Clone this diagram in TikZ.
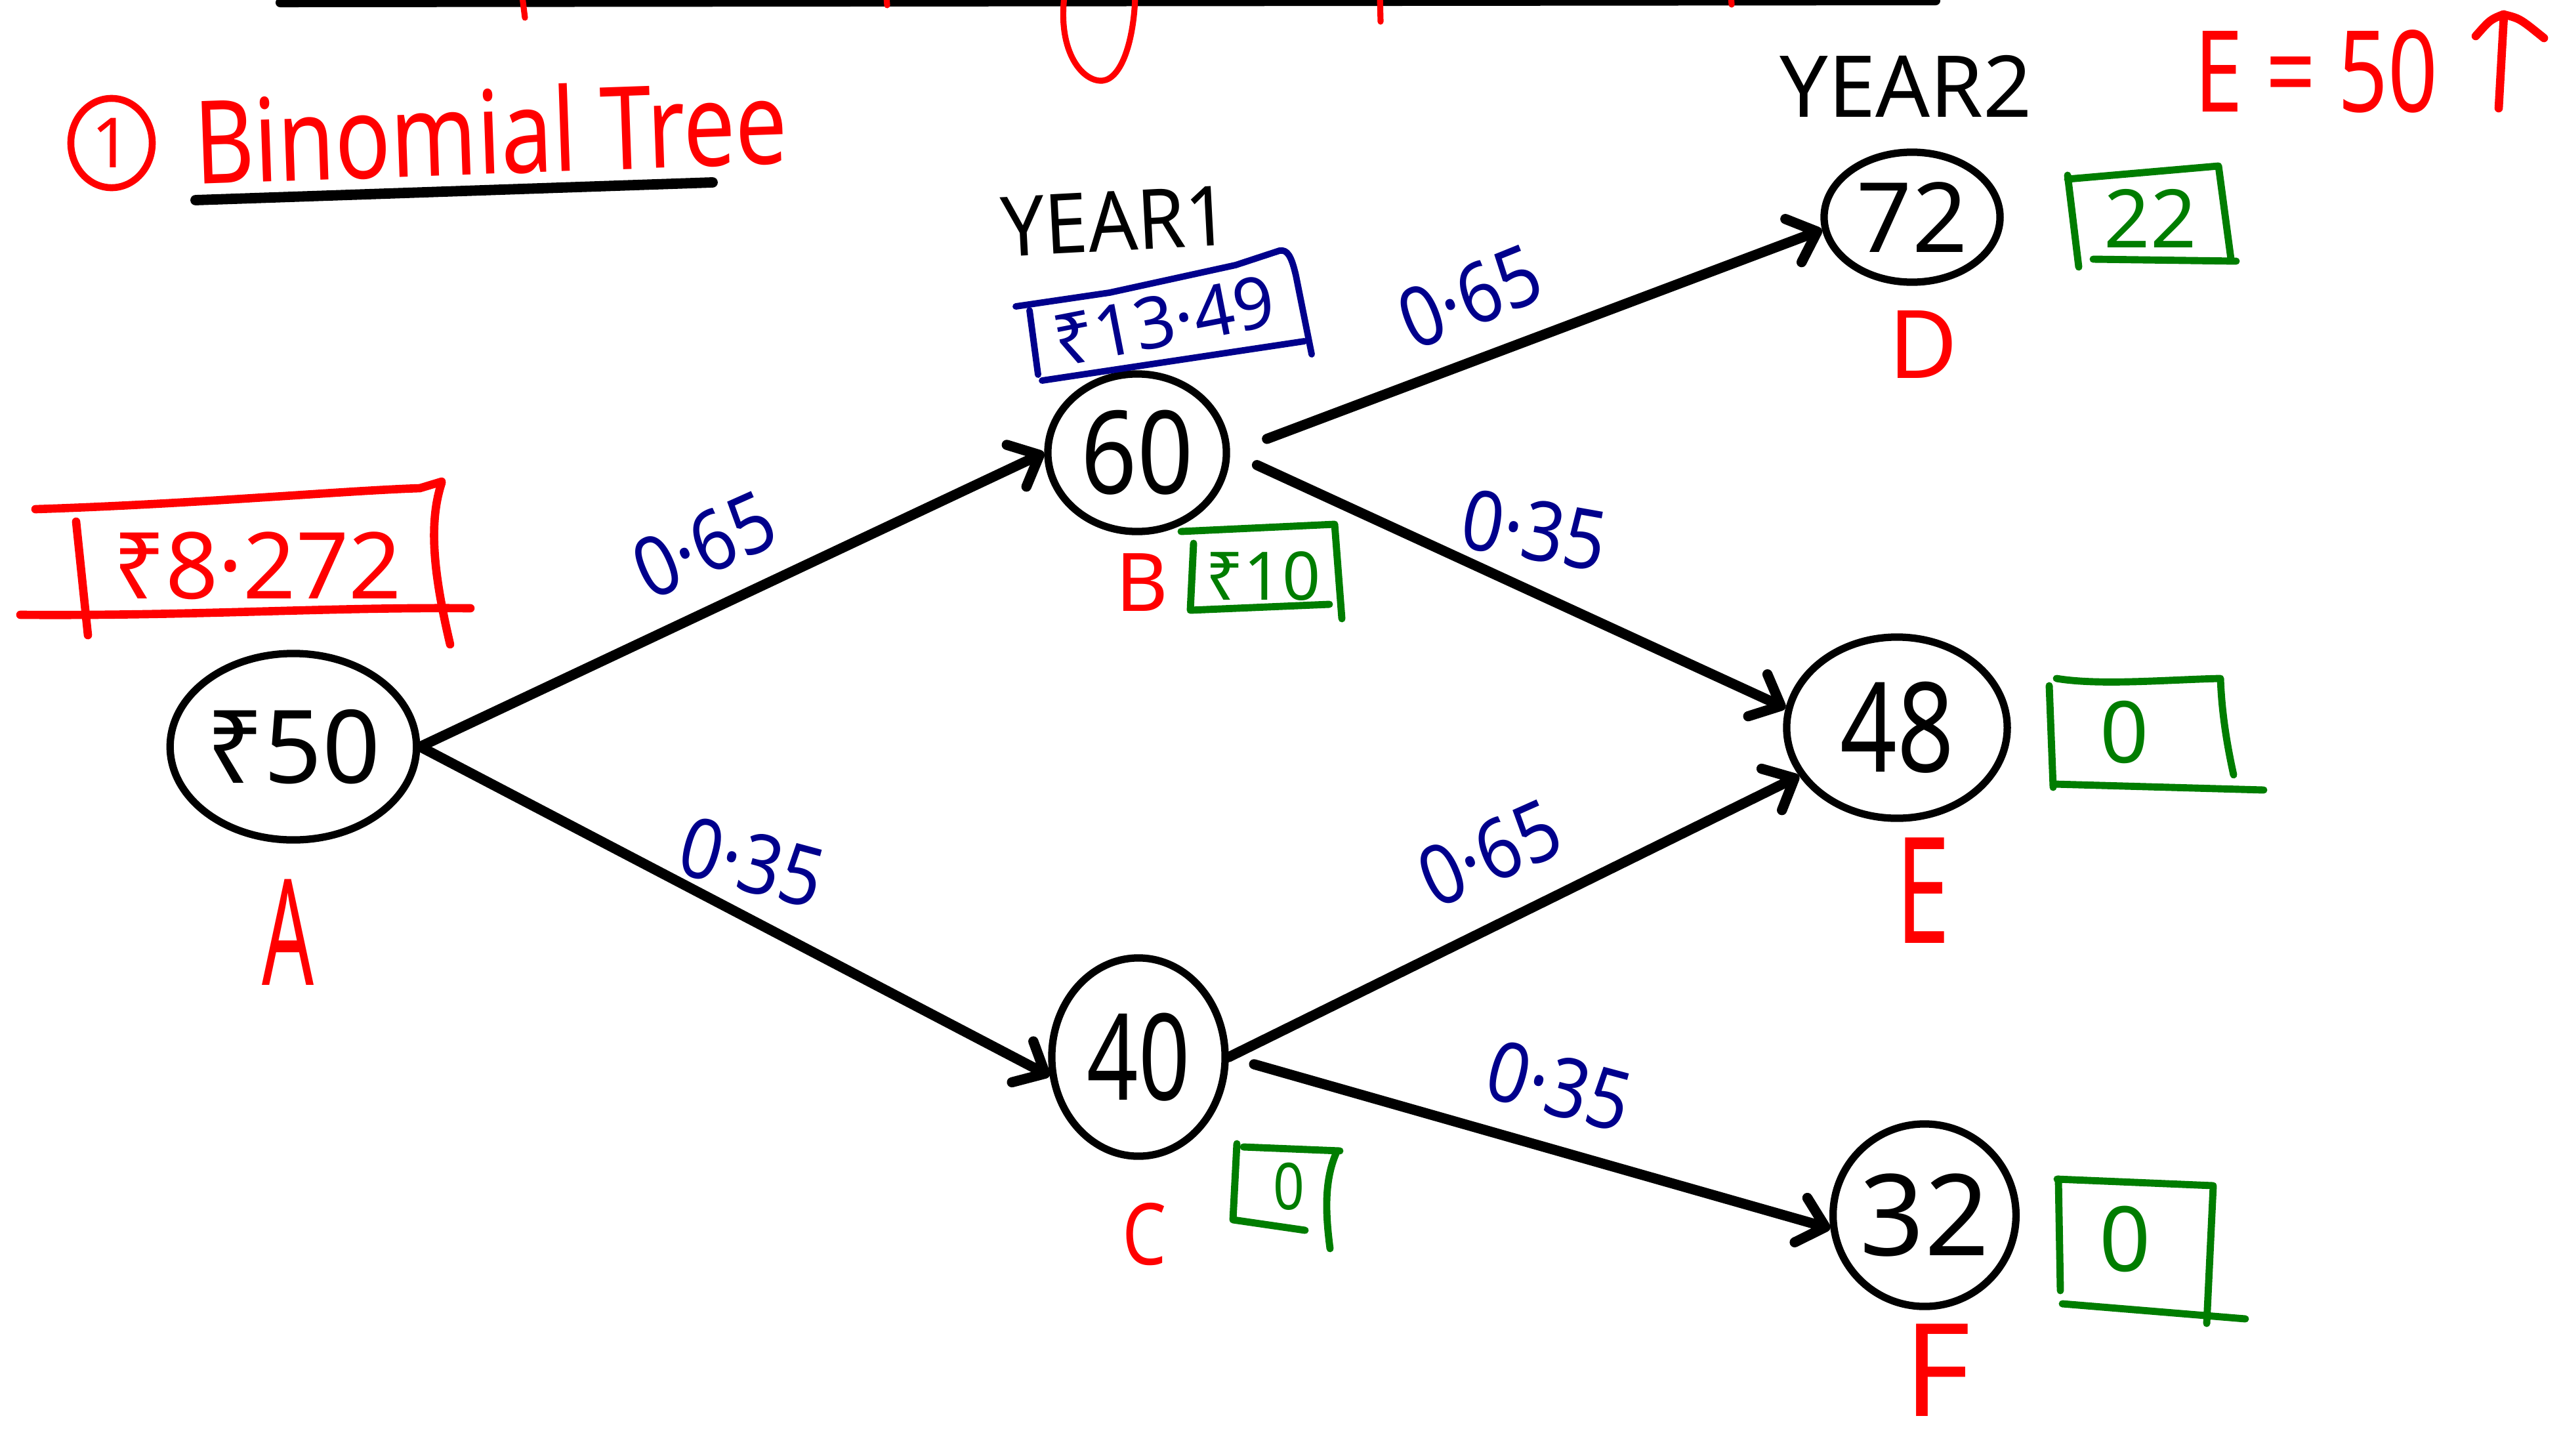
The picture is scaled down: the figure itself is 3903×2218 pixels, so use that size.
\documentclass[tikz,border=0pt]{standalone}
\usepackage{fontspec}
\usepackage{graphicx}
\setmainfont{Noto Sans}
\usetikzlibrary{arrows.meta,shapes.geometric}

\definecolor{penred}{RGB}{255,0,0}
\definecolor{penblue}{RGB}{0,0,140}
\definecolor{pengreen}{RGB}{0,125,0}

% font size in pt, and horizontal squeeze of a piece of text
\newcommand\penfs[1]{\fontsize{#1pt}{#1pt}\selectfont}
\newcommand\hsq[2]{\scalebox{#1}[1]{#2}}

\tikzset{
  bubble/.style={ellipse, draw=black, line width=3.2pt, inner sep=0pt, text=black},
  edge/.style={draw=black, line width=4.4pt, line cap=round,
               -{Straight Barb[length=11pt, width=20pt, round]}},
  prob/.style={text=penblue, font=\penfs{36}, inner sep=0pt},
  tag/.style={text=penred, inner sep=0pt},
  redpen/.style={draw=penred, line width=3.6pt, line cap=round, line join=round},
  greenpen/.style={draw=pengreen, line width=3.1pt, line cap=round, line join=round},
  bluepen/.style={draw=penblue, line width=2.8pt, line cap=round, line join=round},
}

\begin{document}
\begin{tikzpicture}[x=0.01cm, y=-0.01cm]
\useasboundingbox (0,0) rectangle (3903,2218);
\fill[white] (0,0) rectangle (3903,2218);

% heading cut off at the top edge
\draw[line width=4pt, line cap=round] (427,4) -- (2950,1);
\draw[redpen, line width=2.6pt] (796,-5) -- (800,27);
\draw[redpen, line width=2.6pt] (1351,-5) -- (1352,8);
\draw[redpen, line width=2.6pt] (1622,-5) .. controls (1612,80) and (1650,125) .. (1680,123)
      .. controls (1710,120) and (1728,60) .. (1730,-5);
\draw[redpen, line width=2.6pt] (2103,-5) -- (2104,33);
\draw[redpen, line width=2.6pt] (2638,-5) -- (2639,7);

% title
\node[ellipse, draw=penred, line width=3pt, minimum width=1.24cm, minimum height=1.36cm,
      text=penred, font=\penfs{30}, inner sep=0pt] (num) at (170,218) {1};
\node[tag, font=\penfs{50}, anchor=base, rotate=2] (title) at (750,265) {\hsq{0.8}{Binomial Tree}};
\draw[line width=4.5pt, line cap=round] (298,305) -- (1086,278);

% exercise price
\node[tag, font=\penfs{49}, anchor=base] (strike) at (3530,170) {\hsq{0.77}{E = 50}};
\draw[redpen, line width=3.6pt] (3808,165) -- (3816,22);
\draw[redpen, line width=3.6pt] (3773,55) .. controls (3795,30) .. (3815,22)
      .. controls (3840,28) .. (3877,58);

% period headings
\node[font=\penfs{36}, anchor=base, rotate=3] (y1) at (1702,382) {\hsq{0.93}{YEAR1}};
\node[font=\penfs{37}, anchor=base] (y2) at (2905,178) {YEAR2};

% share price tree
\node[bubble, minimum width=3.74cm, minimum height=2.84cm, font=\penfs{44}] (A) at (447,1138) {₹50};
\node[bubble, minimum width=2.72cm, minimum height=2.40cm, font=\penfs{50}] (B) at (1733,690) {\hsq{0.85}{60}};
\node[bubble, minimum width=2.64cm, minimum height=3.02cm, font=\penfs{52}] (C) at (1735,1611) {\hsq{0.75}{40}};
\node[bubble, minimum width=2.68cm, minimum height=1.98cm, font=\penfs{42}] (D) at (2914,331) {72};
\node[bubble, minimum width=3.36cm, minimum height=2.76cm, font=\penfs{54}] (E) at (2891,1109) {\hsq{0.8}{48}};
\node[bubble, minimum width=2.66cm, minimum height=2.78cm, font=\penfs{49}] (F) at (2933,1852) {32};

% node letters
\node[tag, font=\penfs{64}] (lA) at (439,1421) {\hsq{0.55}{A}};
\node[tag, font=\penfs{35}] (lB) at (1740,888) {B};
\node[tag, font=\penfs{37}] (lC) at (1744,1881) {\hsq{0.82}{C}};
\node[tag, font=\penfs{41}] (lD) at (2931,525) {D};
\node[tag, font=\penfs{64}] (lE) at (2931,1357) {\hsq{0.66}{E}};
\node[tag, font=\penfs{56}] (lF) at (2953,2088) {F};

% branches
\draw[edge] (A.east) -- (B.west);
\draw[edge] (A.east) -- (C.192);
\draw[edge, shorten <=0.6cm] (B.east) -- (D.188);
\draw[edge, shorten <=0.45cm] (B.east) -- (E.170);
\draw[edge] (C.east) -- (E);
\draw[edge, shorten <=0.4cm] (C.east) -- (F.188);

% probabilities
\node[prob, rotate=24] (pAB) at (1073,830) {\hsq{0.88}{0·65}};
\node[prob, rotate=-15] (pAC) at (1146,1314) {\hsq{0.88}{0·35}};
\node[prob, rotate=22] (pBD) at (2240,452) {\hsq{0.88}{0·65}};
\node[prob, rotate=-10] (pBE) at (2338,808) {\hsq{0.88}{0·35}};
\node[prob, rotate=24] (pCE) at (2270,1300) {\hsq{0.88}{0·65}};
\node[prob, rotate=-15] (pCF) at (2376,1655) {\hsq{0.88}{0·35}};

% option values
\node[text=penred, font=\penfs{40}, inner sep=0pt] (vA) at (392,862) {₹8·272};
\draw[redpen] (54,776) .. controls (300,768) and (520,748) .. (640,744) -- (673,734);
\draw[redpen] (31,937) .. controls (300,939) and (500,925) .. (717,927);
\draw[redpen] (116,795) -- (134,968);
\draw[redpen] (673,736) .. controls (652,800) and (662,880) .. (686,982);

\node[text=penblue, font=\penfs{31}, rotate=11, inner sep=0pt] (vB) at (1774,489) {₹13·49};
\draw[bluepen] (1548,467) -- (1691,446) -- (1883,404) -- (1950,382)
      .. controls (1962,380) and (1968,390) .. (1975,420) -- (1999,540);
\draw[bluepen] (1569,473) -- (1582,571);
\draw[bluepen] (1588,580) -- (1988,520);

\node[text=pengreen, font=\penfs{29}, inner sep=0pt] (pB) at (1925,878) {₹10};
\draw[greenpen] (1800,810) -- (2034,799) -- (2045,943);
\draw[greenpen] (1819,828) -- (1814,930) -- (2026,921);

\node[text=pengreen, font=\penfs{28}, inner sep=0pt] (pC) at (1964,1808) {\hsq{0.85}{0}};
\draw[greenpen] (1885,1743) -- (1879,1859) -- (1989,1875);
\draw[greenpen] (1895,1748) -- (2042,1754);
\draw[greenpen] (2036,1758) .. controls (2018,1800) and (2020,1850) .. (2027,1903);

\node[text=pengreen, font=\penfs{35}, inner sep=0pt] (pD) at (3277,333) {22};
\draw[greenpen] (3151,267) -- (3168,407);
\draw[greenpen] (3151,273) -- (3381,253) -- (3400,395);
\draw[greenpen] (3190,395) -- (3408,398);

\node[text=pengreen, font=\penfs{37}, inner sep=0pt] (pE) at (3238,1116) {0};
\draw[greenpen] (3134,1034) .. controls (3200,1045) and (3300,1036) .. (3384,1034)
      .. controls (3386,1090) and (3395,1140) .. (3404,1181);
\draw[greenpen] (3123,1045) -- (3129,1200);
\draw[greenpen] (3131,1195) -- (3450,1204);

\node[text=pengreen, font=\penfs{39}, inner sep=0pt] (pF) at (3239,1888) {0};
\draw[greenpen] (3135,1797) -- (3373,1807) -- (3363,2017);
\draw[greenpen] (3137,1797) -- (3140,1967);
\draw[greenpen] (3143,1987) -- (3422,2010);
\end{tikzpicture}
\end{document}
